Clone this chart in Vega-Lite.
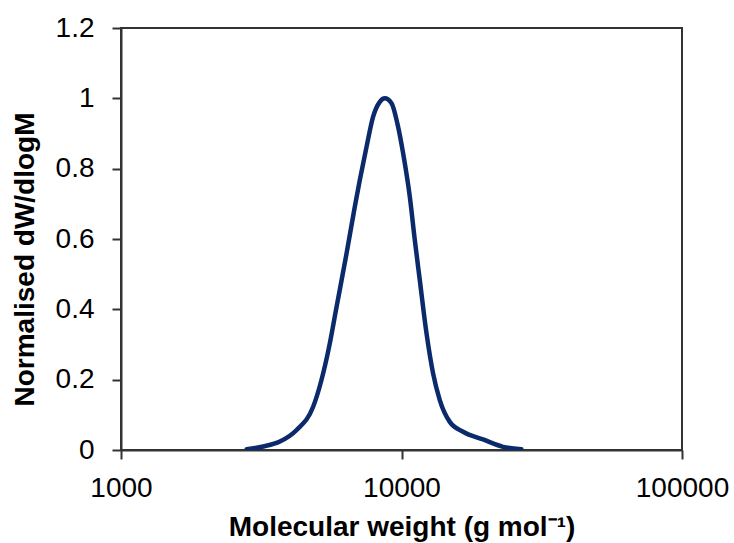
{
  "$schema": "https://vega.github.io/schema/vega-lite/v6.json",
  "autosize": "none",
  "width": 561,
  "height": 422,
  "padding": {"left": 121, "top": 28, "right": 52, "bottom": 93},
  "background": "white",
  "config": {
    "font": "Liberation Sans",
    "view": {"stroke": "#333333", "strokeWidth": 2},
    "axis": {
      "grid": false,
      "domainColor": "#333333",
      "domainWidth": 2,
      "tickColor": "#333333",
      "tickWidth": 2,
      "tickSize": 9,
      "labelFont": "Liberation Sans",
      "labelFontSize": 28,
      "labelColor": "#000000",
      "titleFont": "Liberation Sans",
      "titleFontSize": 28,
      "titleFontWeight": "bold",
      "titleColor": "#000000"
    }
  },
  "data": {
    "values": [
      {"mw": 2805, "w": 0.002},
      {"mw": 3214, "w": 0.010},
      {"mw": 3685, "w": 0.024},
      {"mw": 4227, "w": 0.057},
      {"mw": 4842, "w": 0.123},
      {"mw": 5522, "w": 0.294},
      {"mw": 5868, "w": 0.407},
      {"mw": 6370, "w": 0.559},
      {"mw": 6817, "w": 0.692},
      {"mw": 7104, "w": 0.768},
      {"mw": 7505, "w": 0.862},
      {"mw": 7922, "w": 0.948},
      {"mw": 8369, "w": 0.990},
      {"mw": 8721, "w": 1.000},
      {"mw": 9212, "w": 0.986},
      {"mw": 9725, "w": 0.919},
      {"mw": 10132, "w": 0.844},
      {"mw": 10706, "w": 0.720},
      {"mw": 11154, "w": 0.597},
      {"mw": 11621, "w": 0.483},
      {"mw": 12278, "w": 0.332},
      {"mw": 12960, "w": 0.218},
      {"mw": 13692, "w": 0.142},
      {"mw": 14863, "w": 0.080},
      {"mw": 16580, "w": 0.052},
      {"mw": 19534, "w": 0.030},
      {"mw": 23013, "w": 0.009},
      {"mw": 26764, "w": 0.002}
    ]
  },
  "mark": {"type": "line", "color": "#0b2a6b", "strokeWidth": 4.5, "interpolate": "monotone", "strokeCap": "round", "clip": true},
  "encoding": {
    "x": {
      "field": "mw",
      "type": "quantitative",
      "scale": {"type": "log", "domain": [1000, 100000], "nice": false},
      "axis": {
        "title": "Molecular weight (g mol⁻¹)",
        "values": [1000, 10000, 100000],
        "format": "d",
        "labelPadding": 15,
        "titlePadding": 11,
        "labelFlush": false
      }
    },
    "y": {
      "field": "w",
      "type": "quantitative",
      "scale": {"domain": [0, 1.2], "nice": false},
      "axis": {
        "title": "Normalised dW/dlogM",
        "values": [0, 0.2, 0.4, 0.6, 0.8, 1, 1.2],
        "format": "~g",
        "labelPadding": 18,
        "titlePadding": 16,
        "titleY": 231
      }
    }
  }
}
